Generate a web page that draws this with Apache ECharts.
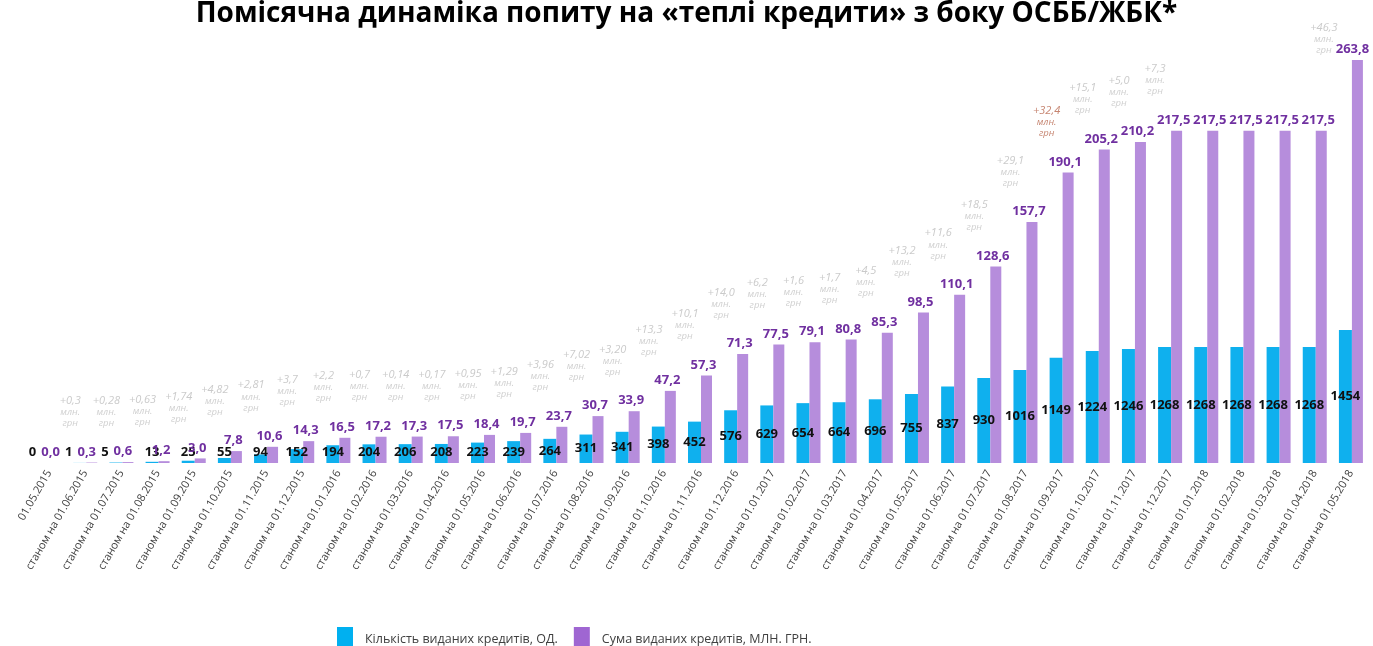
<html>
<head>
    <meta charset="UTF-8">
    <title>Помісячна динаміка попиту на «теплі кредити»</title>
    <style type="text/css">
        html, body { margin: 0; padding: 0; background: #fff; }
        #main { width: 1373px; height: 646px; }
    </style>
</head>
<body>
    <div id="main"></div>
</body>
<script src="https://cdn.jsdelivr.net/npm/echarts@6/dist/echarts.min.js"></script>
<script type="text/javascript">

    var categories = [
        '01.05.2015', 'станом на 01.06.2015', 'станом на 01.07.2015', 'станом на 01.08.2015',
        'станом на 01.09.2015', 'станом на 01.10.2015', 'станом на 01.11.2015', 'станом на 01.12.2015',
        'станом на 01.01.2016', 'станом на 01.02.2016', 'станом на 01.03.2016', 'станом на 01.04.2016',
        'станом на 01.05.2016', 'станом на 01.06.2016', 'станом на 01.07.2016', 'станом на 01.08.2016',
        'станом на 01.09.2016', 'станом на 01.10.2016', 'станом на 01.11.2016', 'станом на 01.12.2016',
        'станом на 01.01.2017', 'станом на 01.02.2017', 'станом на 01.03.2017', 'станом на 01.04.2017',
        'станом на 01.05.2017', 'станом на 01.06.2017', 'станом на 01.07.2017', 'станом на 01.08.2017',
        'станом на 01.09.2017', 'станом на 01.10.2017', 'станом на 01.11.2017', 'станом на 01.12.2017',
        'станом на 01.01.2018', 'станом на 01.02.2018', 'станом на 01.03.2018', 'станом на 01.04.2018',
        'станом на 01.05.2018'
    ];

    // кількість виданих кредитів, од.
    var creditCount = [
        0, 1, 5, 13, 25, 55, 94, 152, 194, 204, 206, 208, 223, 239, 264, 311, 341, 398, 452,
        576, 629, 654, 664, 696, 755, 837, 930, 1016, 1149, 1224, 1246, 1268, 1268, 1268, 1268, 1268, 1454
    ];

    // сума виданих кредитів, млн. грн
    var creditSum = [
        0.0, 0.3, 0.6, 1.2, 3.0, 7.8, 10.6, 14.3, 16.5, 17.2, 17.3, 17.5, 18.4, 19.7, 23.7, 30.7, 33.9,
        47.2, 57.3, 71.3, 77.5, 79.1, 80.8, 85.3, 98.5, 110.1, 128.6, 157.7, 190.1, 205.2, 210.2,
        217.5, 217.5, 217.5, 217.5, 217.5, 263.8
    ];

    // приріст суми за місяць
    var sumIncrease = [
        '', '+0,3', '+0,28', '+0,63', '+1,74', '+4,82', '+2,81', '+3,7', '+2,2', '+0,7', '+0,14',
        '+0,17', '+0,95', '+1,29', '+3,96', '+7,02', '+3,20', '+13,3', '+10,1', '+14,0', '+6,2',
        '+1,6', '+1,7', '+4,5', '+13,2', '+11,6', '+18,5', '+29,1', '+32,4', '+15,1', '+5,0', '+7,3',
        '', '', '', '', '+46,3'
    ];
    var highlightIndex = 28;

    var seriesNames = ['Кількість виданих кредитів, ОД.', 'Сума виданих кредитів, МЛН. ГРН.'];

    var font = "'Open Sans', 'DejaVu Sans', sans-serif";
    var last = creditSum.length - 1;

    // дрібні значення підписуємо біля основи, найменші зсуваємо вліво
    var countData = creditCount.map(function (v) {
        if (v < 10) {
            return { value: v, label: { position: 'insideBottom', distance: 4, offset: [-11, 0] } };
        }
        if (v < 240) {
            return { value: v, label: { position: 'insideBottom', distance: 4 } };
        }
        return v;
    });

    var sumData = creditSum.map(function (v, i) {
        if (i === last) {
            return { value: v, label: { offset: [-5, 0] } };
        }
        if (v < 1) {
            return { value: v, label: { offset: [-5, 0] } };
        }
        return v;
    });

    var increaseData = creditSum.map(function (v, i) {
        if (!sumIncrease[i]) return '-';
        if (i === last) {
            return { value: v, label: { offset: [-27, 0], distance: 4 } };
        }
        return v;
    });

    var option = {
        backgroundColor: '#fff',
        animation: false,
        title: {
            text: 'Помісячна динаміка попиту на «теплі кредити» з боку ОСББ/ЖБК*',
            left: 'center',
            top: -5,
            textStyle: {
                color: '#000',
                fontWeight: 'bold',
                fontFamily: font,
                fontSize: 28
            }
        },
        legend: {
            left: 332,
            top: 622,
            icon: 'rect',
            itemWidth: 16,
            itemHeight: 24,
            itemGap: 16,
            selectedMode: false,
            textStyle: {
                color: '#404040',
                fontFamily: font,
                fontSize: 12.5,
                padding: [0, 0, 0, 7]
            },
            data: [
                { name: seriesNames[0], itemStyle: { color: '#00B0F0' } },
                { name: seriesNames[1], itemStyle: { color: '#9F66D2' } }
            ]
        },
        grid: {
            left: 31,
            right: 4,
            top: 20,
            bottom: 183
        },
        xAxis: {
            type: 'category',
            data: categories,
            axisLine: { show: false },
            axisTick: { show: false },
            axisLabel: {
                interval: 0,
                rotate: 60,
                margin: 8,
                color: '#404040',
                fontFamily: font,
                fontSize: 11
            }
        },
        yAxis: [
            { type: 'value', min: 0, max: 4840, show: false, splitLine: { show: false } },
            { type: 'value', min: 0, max: 290, show: false, splitLine: { show: false } }
        ],
        series: [
            {
                name: seriesNames[0],
                type: 'bar',
                yAxisIndex: 0,
                barWidth: 13,
                barGap: '0%',
                itemStyle: { color: '#0FB0EE' },
                label: {
                    show: true,
                    position: 'inside',
                    color: '#111',
                    fontFamily: font,
                    fontWeight: 'bold',
                    fontSize: 13
                },
                data: countData
            },
            {
                name: seriesNames[1],
                type: 'bar',
                yAxisIndex: 1,
                barWidth: 11,
                barGap: '0%',
                itemStyle: { color: '#B68DDC' },
                label: {
                    show: true,
                    position: 'top',
                    distance: 4,
                    offset: [-3, 0],
                    color: '#7030A0',
                    fontFamily: font,
                    fontWeight: 'bold',
                    fontSize: 13,
                    formatter: function (p) {
                        return p.value.toFixed(1).replace('.', ',');
                    }
                },
                data: sumData
            },
            {
                name: 'приріст',
                type: 'scatter',
                yAxisIndex: 1,
                symbolSize: 1,
                itemStyle: { color: 'rgba(0,0,0,0)' },
                silent: true,
                label: {
                    show: true,
                    position: 'top',
                    distance: 33,
                    offset: [-15, 0],
                    align: 'center',
                    fontFamily: font,
                    formatter: function (p) {
                        var s = p.dataIndex === highlightIndex ? 'r' : 'a';
                        var t = p.dataIndex === highlightIndex ? 'rs' : 'b';
                        return '{' + s + '|' + sumIncrease[p.dataIndex] + '}\n{' + t + '|млн.}\n{' + t + '|грн}';
                    },
                    rich: {
                        a: { color: '#BDBDBD', fontStyle: 'italic', fontSize: 11, lineHeight: 12, fontFamily: font },
                        b: { color: '#C4C4C4', fontStyle: 'italic', fontSize: 9.5, lineHeight: 11, fontFamily: font },
                        r: { color: '#B8664E', fontStyle: 'italic', fontSize: 11, lineHeight: 12, fontFamily: font },
                        rs: { color: '#B8664E', fontStyle: 'italic', fontSize: 9.5, lineHeight: 11, fontFamily: font }
                    }
                },
                data: increaseData
            }
        ]
    };

    var myChart = echarts.init(document.getElementById('main'));
    myChart.setOption(option);
</script>
</html>
